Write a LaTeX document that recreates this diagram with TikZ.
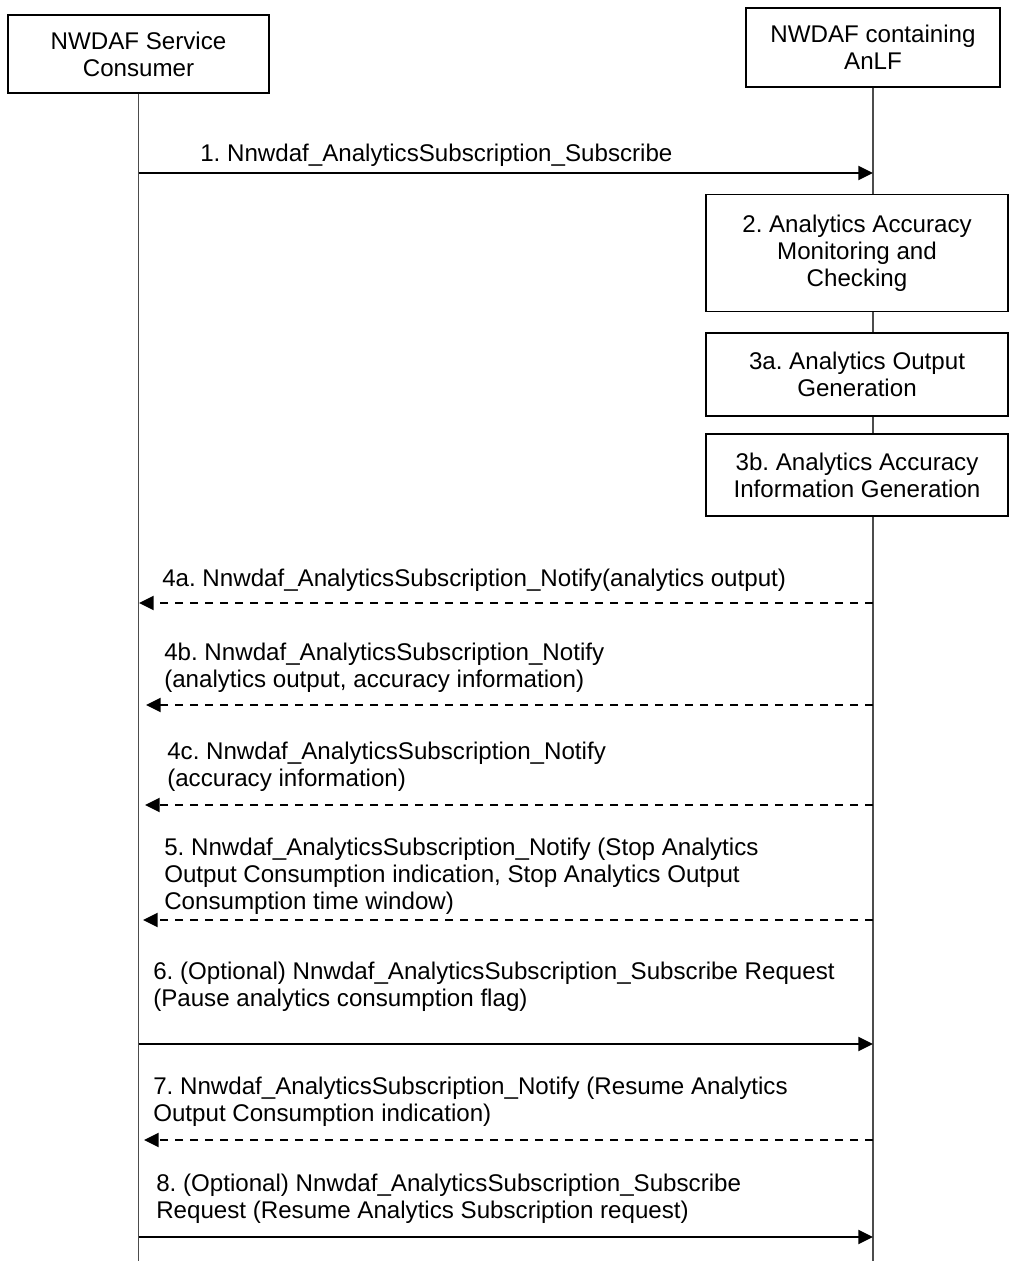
\documentclass[tikz,border=0pt]{standalone}
\usepackage{fontspec}
\setmainfont{Liberation Sans}
\usetikzlibrary{arrows.meta}
\newcommand\tstr{\rule{0pt}{14.25pt}}
\frenchspacing
\begin{document}
\frenchspacing
\begin{tikzpicture}[x=0.75pt,y=-0.75pt,
  box/.style={draw=black, line width=1pt, fill=white, align=center, inner sep=0pt,
    font=\fontsize{18.1pt}{20.25pt}\selectfont},
  lbl/.style={anchor=north west, inner sep=0pt, align=left,
    font=\fontsize{18.1pt}{20.25pt}\selectfont},
  life/.style={draw=black!70, line width=1pt},
  msg/.style={line width=1.5pt, -{Triangle[length=11pt,width=10.5pt]}},
  ret/.style={msg, dash pattern=on 6pt off 5.25pt}]
\useasboundingbox (0,0) rectangle (1010,1261);

% lifeline heads
\node[box, minimum width=195.75pt, minimum height=58.5pt] (cons) at (138.5,54) {NWDAF Service\\Consumer};
\node[box, minimum width=190.5pt, minimum height=59.25pt] (nwdaf) at (873,47.5) {NWDAF containing\\AnLF};

% lifelines
\coordinate (consEnd) at (138.5,1261);
\coordinate (nwEnd) at (873,1261);
\draw[life] (cons.south) -- (consEnd);
\draw[life] (nwdaf.south) -- (nwEnd);

% process boxes
\node[box, minimum width=226.5pt, minimum height=87.75pt] (s2) at (857,253) {2. Analytics Accuracy\\Monitoring and\\Checking};
\node[box, minimum width=226.5pt, minimum height=62.25pt] (s3a) at (857,374.5) {3a. Analytics Output\\Generation};
\node[box, minimum width=226.5pt, minimum height=61.5pt] (s3b) at (857,475) {3b. Analytics Accuracy\\Information Generation};

% message end points
\coordinate (L1) at (138.5,173);  \coordinate (R1) at (873,173);
\coordinate (L4a) at (139,603);   \coordinate (R4a) at (873,603);
\coordinate (L4b) at (146,705);   \coordinate (R4b) at (873,705);
\coordinate (L4c) at (145,805);   \coordinate (R4c) at (873,805);
\coordinate (L5) at (143,920);    \coordinate (R5) at (873,920);
\coordinate (L6) at (138.5,1044); \coordinate (R6) at (873,1044);
\coordinate (L7) at (144,1140);   \coordinate (R7) at (873,1140);
\coordinate (L8) at (138.5,1237); \coordinate (R8) at (873,1237);

% messages
\draw[msg] (L1) -- (R1);
\draw[ret] (R4a) -- (L4a);
\draw[ret] (R4b) -- (L4b);
\draw[ret] (R4c) -- (L4c);
\draw[ret] (R5) -- (L5);
\draw[msg] (L6) -- (R6);
\draw[ret] (R7) -- (L7);
\draw[msg] (L8) -- (R8);

% labels
\node[lbl] (t1) at (200,142) {\tstr 1. Nnwdaf\_AnalyticsSubscription\_Subscribe};
\node[lbl] (t4a) at (162,567) {\tstr 4a. Nnwdaf\_AnalyticsSubscription\_Notify(analytics output)};
\node[lbl] (t4b) at (164,641) {\tstr 4b. Nnwdaf\_AnalyticsSubscription\_Notify\\(analytics output, accuracy information)};
\node[lbl] (t4c) at (167,740) {\tstr 4c. Nnwdaf\_AnalyticsSubscription\_Notify\\(accuracy information)};
\node[lbl] (t5) at (164,836) {\tstr 5. Nnwdaf\_AnalyticsSubscription\_Notify (Stop Analytics\\Output Consumption indication, Stop Analytics Output\\Consumption time window)};
\node[lbl] (t6) at (153,960) {\tstr 6. (Optional) Nnwdaf\_AnalyticsSubscription\_Subscribe Request\\(Pause analytics consumption flag)};
\node[lbl] (t7) at (153,1075) {\tstr 7. Nnwdaf\_AnalyticsSubscription\_Notify (Resume Analytics\\Output Consumption indication)};
\node[lbl] (t8) at (156,1172) {\tstr 8. (Optional) Nnwdaf\_AnalyticsSubscription\_Subscribe\\Request (Resume Analytics Subscription request)};
\end{tikzpicture}
\end{document}
